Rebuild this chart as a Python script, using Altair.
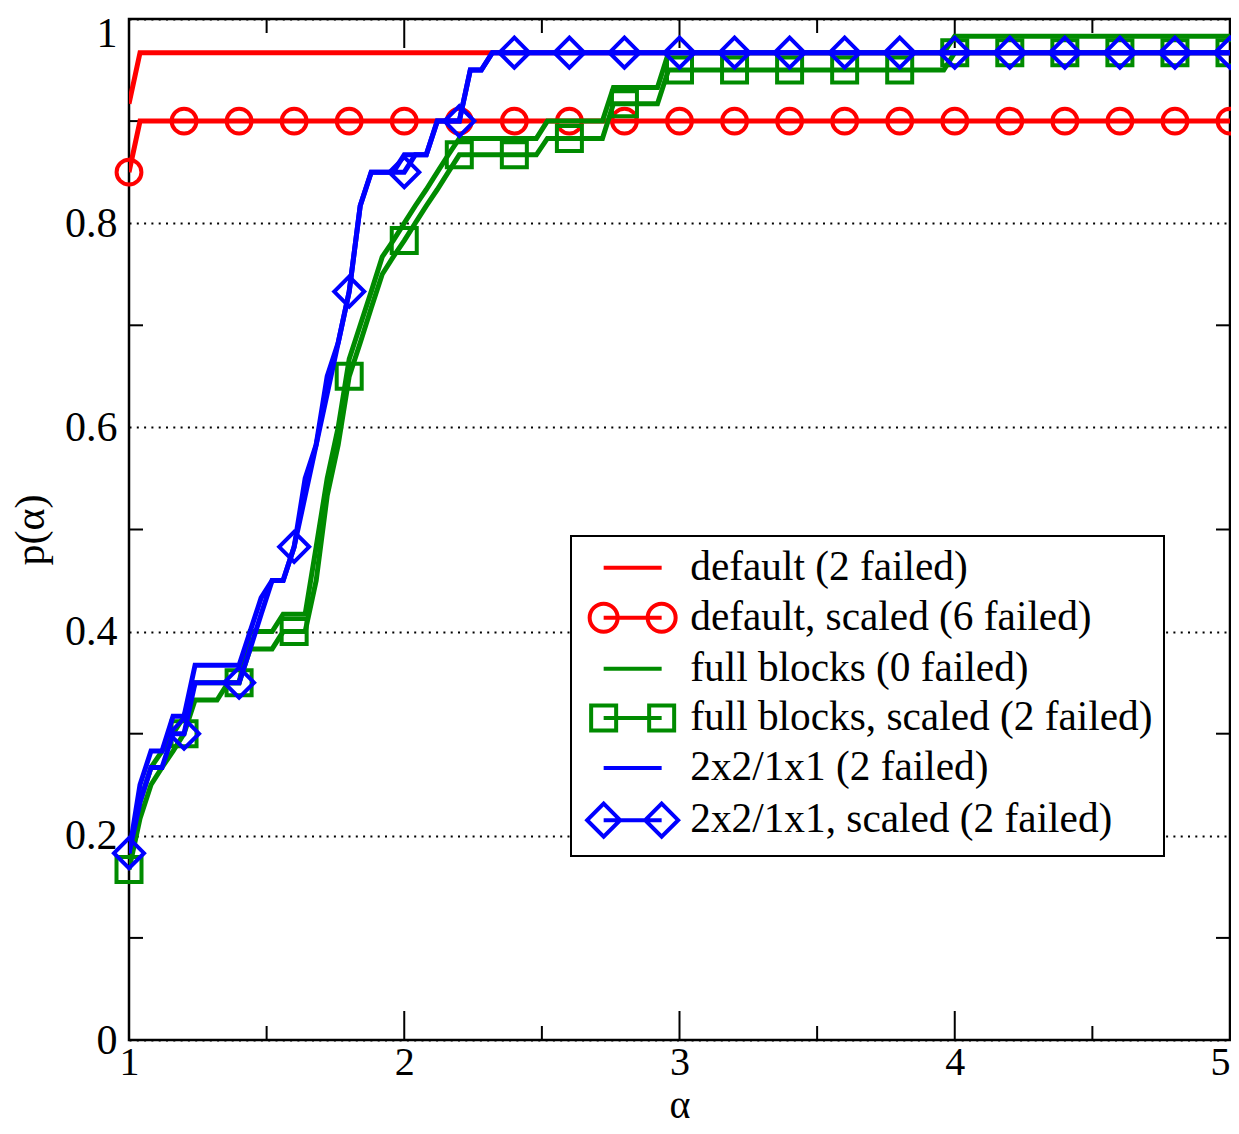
import altair as alt
import pandas as pd

# ---------------- data ----------------
labels = ["default (2 failed)", "default, scaled (6 failed)", "full blocks (0 failed)",
          "full blocks, scaled (2 failed)", "2x2/1x1 (2 failed)", "2x2/1x1, scaled (2 failed)"]
colors = ["#ff0000", "#ff0000", "#008b00", "#008b00", "#0000ff", "#0000ff"]
legend_markers = [None, "circle", None, "square", None, "diamond"]

x_ticks_major = [1, 2, 3, 4, 5]
x_ticks_minor = [1.5, 2.5, 3.5, 4.5]
y_ticks_major = [0, 0.2, 0.4, 0.6, 0.8, 1]
y_ticks_minor = [0.1, 0.3, 0.5, 0.7, 0.9]

marker_alpha = [1.0, 1.2, 1.4, 1.6, 1.8, 2.0, 2.2, 2.4, 2.6, 2.8, 3.0,
                3.2, 3.4, 3.6, 3.8, 4.0, 4.2, 4.4, 4.6, 4.8, 5.0]

default_alpha = [1.00, 1.04, 5.00]
default_p = [0.917, 0.967, 0.967]

default_scaled_alpha = [1.00, 1.04, 5.00]
default_scaled_p = [0.850, 0.900, 0.900]
default_scaled_marker_p = [0.850, 0.900, 0.900, 0.900, 0.900, 0.900, 0.900, 0.900, 0.900, 0.900, 0.900,
                           0.900, 0.900, 0.900, 0.900, 0.900, 0.900, 0.900, 0.900, 0.900, 0.900]

full_alpha = [1.00, 1.04, 1.08, 1.12, 1.16, 1.20, 1.24, 1.40, 1.44, 1.52, 1.56, 1.64,
              1.68, 1.72, 1.76, 1.80, 1.84, 1.88, 1.92, 1.96, 2.00, 2.04, 2.08, 2.12,
              2.16, 2.20, 2.48, 2.52, 2.72, 2.76, 2.92, 2.96, 3.96, 4.00, 5.00]
full_p = [0.183, 0.233, 0.267, 0.283, 0.300, 0.317, 0.350, 0.350, 0.400, 0.400, 0.417, 0.417,
          0.483, 0.550, 0.600, 0.667, 0.700, 0.733, 0.767, 0.783, 0.800, 0.817, 0.833, 0.850,
          0.867, 0.883, 0.883, 0.900, 0.900, 0.933, 0.933, 0.967, 0.967, 0.983, 0.983]

full_scaled_alpha = [1.00, 1.04, 1.08, 1.12, 1.16, 1.20, 1.24, 1.32, 1.36, 1.40, 1.44, 1.52,
                     1.56, 1.64, 1.68, 1.72, 1.76, 1.80, 1.84, 1.88, 1.92, 1.96, 2.00, 2.04,
                     2.08, 2.12, 2.16, 2.20, 2.48, 2.52, 2.72, 2.76, 2.92, 2.96, 3.96, 4.00, 5.00]
full_scaled_p = [0.167, 0.217, 0.250, 0.267, 0.283, 0.300, 0.333, 0.333, 0.350, 0.350, 0.383, 0.383,
                 0.400, 0.400, 0.450, 0.533, 0.583, 0.650, 0.683, 0.717, 0.750, 0.767, 0.783, 0.800,
                 0.817, 0.833, 0.850, 0.867, 0.867, 0.883, 0.883, 0.917, 0.917, 0.950, 0.950, 0.967, 0.967]
full_scaled_marker_p = [0.167, 0.300, 0.350, 0.400, 0.650, 0.783, 0.867, 0.867, 0.883, 0.917, 0.950,
                        0.950, 0.950, 0.950, 0.950, 0.967, 0.967, 0.967, 0.967, 0.967, 0.967]

b22_alpha = [1.00, 1.04, 1.08, 1.12, 1.16, 1.20, 1.24, 1.40, 1.44, 1.48, 1.52, 1.56,
             1.60, 1.64, 1.68, 1.72, 1.76, 1.80, 1.84, 1.88, 1.96, 2.00, 2.08, 2.12,
             2.20, 2.24, 2.28, 2.32, 5.00]
b22_p = [0.183, 0.250, 0.283, 0.283, 0.317, 0.317, 0.367, 0.367, 0.400, 0.433, 0.450, 0.450,
         0.483, 0.550, 0.583, 0.650, 0.683, 0.733, 0.817, 0.850, 0.850, 0.867, 0.867, 0.900,
         0.900, 0.950, 0.950, 0.967, 0.967]

b22_scaled_alpha = [1.00, 1.04, 1.08, 1.12, 1.16, 1.20, 1.24, 1.40, 1.44, 1.48, 1.52, 1.56,
                    1.60, 1.64, 1.68, 1.72, 1.76, 1.80, 1.84, 1.88, 2.00, 2.04, 2.08, 2.12,
                    2.20, 2.24, 2.28, 2.32, 5.00]
b22_scaled_p = [0.183, 0.233, 0.267, 0.267, 0.300, 0.300, 0.350, 0.350, 0.383, 0.417, 0.450, 0.450,
                0.483, 0.533, 0.583, 0.633, 0.683, 0.733, 0.817, 0.850, 0.850, 0.867, 0.867, 0.900,
                0.900, 0.950, 0.950, 0.967, 0.967]
b22_scaled_marker_p = [0.183, 0.300, 0.350, 0.483, 0.733, 0.850, 0.900, 0.967, 0.967, 0.967, 0.967,
                       0.967, 0.967, 0.967, 0.967, 0.967, 0.967, 0.967, 0.967, 0.967, 0.967]

# ---------------- layout / style ----------------
W, H = 1101, 1021
PAD = {"left": 121, "top": 11, "right": 1, "bottom": 86}
FONT = "Liberation Serif"
FSY = 42        # y tick label size
FSX = 40        # x tick label / axis title size
LW = 5          # line width
MW = 4          # marker stroke width

xs = alt.Scale(domain=[1, 5], nice=False, zero=False)
ys = alt.Scale(domain=[0, 1], nice=False, zero=False)

xaxis = alt.Axis(values=x_ticks_major, format="~g", ticks=False, tickSize=0, domain=False, grid=False,
                 labelFont=FONT, labelFontSize=FSX, labelColor="black", labelPadding=2,
                 labelFlush=False, labelOverlap=False,
                 labelAlign={"condition": {"test": "datum.value == 5", "value": "right"}, "value": "center"},
                 title="α", titleFont=FONT, titleFontSize=FSX, titleFontWeight="normal",
                 titleColor="black", titlePadding=3)
yaxis = alt.Axis(values=y_ticks_major, format="~g", ticks=False, tickSize=0, domain=False, grid=True,
                 gridColor="black", gridDash=[2, 5.3], gridWidth=2, gridOpacity=1,
                 labelFont=FONT, labelFontSize=FSY, labelColor="black", labelPadding=12,
                 labelFlush=False, labelOverlap=False,
                 labelOffset={"condition": {"test": "datum.value == 1", "value": 14}, "value": 0},
                 title="p(α)", titleFont=FONT, titleFontSize=FSY, titleFontWeight="normal",
                 titleColor="black", titlePadding=12)

X = alt.X("alpha:Q", scale=xs, axis=xaxis)
Y = alt.Y("p:Q", scale=ys, axis=yaxis)


def line(ax, py, color):
    df = pd.DataFrame({"alpha": ax, "p": py})
    return alt.Chart(df).mark_line(color=color, strokeWidth=LW, clip=True).encode(x=X, y=Y)


def markers(py, color, shape, size):
    df = pd.DataFrame({"alpha": marker_alpha, "p": py})
    return alt.Chart(df).mark_point(shape=shape, size=size, filled=False, color=color,
                                    strokeWidth=MW, opacity=1, clip=False).encode(x=X, y=Y)


# tick marks (inward, on all four sides)
xmaj = pd.DataFrame({"alpha": x_ticks_major})
xmin = pd.DataFrame({"alpha": x_ticks_minor})
ymin = pd.DataFrame({"p": y_ticks_minor})
tick_layers = [
    alt.Chart(xmaj).mark_rule(color="black", strokeWidth=2).encode(x=X, y=alt.value(H), y2=alt.value(H - 29)),
    alt.Chart(xmaj).mark_rule(color="black", strokeWidth=2).encode(x=X, y=alt.value(0), y2=alt.value(29)),
    alt.Chart(xmin).mark_rule(color="black", strokeWidth=2).encode(x=X, y=alt.value(H), y2=alt.value(H - 14)),
    alt.Chart(xmin).mark_rule(color="black", strokeWidth=2).encode(x=X, y=alt.value(0), y2=alt.value(14)),
    alt.Chart(ymin).mark_rule(color="black", strokeWidth=2).encode(y=Y, x=alt.value(0), x2=alt.value(14)),
    alt.Chart(ymin).mark_rule(color="black", strokeWidth=2).encode(y=Y, x=alt.value(W), x2=alt.value(W - 14)),
]


# legend symbols: line sample plus markers, as custom symbol paths (unit = sqrt(symbolSize)/2 px)
def legend_path(kind, unit=15.0, a=1.0, b=59.0):
    def f(v):
        return f"{v / unit:.3f}"
    path = f"M{f(a)},0L{f(b)},0"
    for c in (a, b):
        if kind == "circle":
            r = 14.0
            path += (f"M{f(c - r)},0A{f(r)},{f(r)} 0 1,0 {f(c + r)},0"
                     f"A{f(r)},{f(r)} 0 1,0 {f(c - r)},0")
        elif kind == "square":
            h = 12.5
            path += (f"M{f(c - h)},{f(-h)}L{f(c + h)},{f(-h)}L{f(c + h)},{f(h)}"
                     f"L{f(c - h)},{f(h)}Z")
        elif kind == "diamond":
            d = 16.5
            path += f"M{f(c - d)},0L{f(c)},{f(-d)}L{f(c + d)},0L{f(c)},{f(d)}Z"
    return path


sym_paths = [legend_path(k) for k in legend_markers]

leg = alt.Legend(orient="none", legendX=442, legendY=517, title=None,
                 fillColor="white", strokeColor="black", padding=11,
                 labelFont=FONT, labelFontSize=41.3, labelColor="black", labelLimit=0,
                 labelOffset=67, rowPadding=7.1, symbolSize=900, symbolStrokeWidth=MW)

leg_df = pd.DataFrame({"series": labels})
legend_layer = alt.Chart(leg_df).mark_point(filled=False, opacity=1, strokeWidth=MW, clip=True).encode(
    x=alt.value(-400), y=alt.value(-400),
    color=alt.Color("series:N", scale=alt.Scale(domain=labels, range=colors), legend=leg),
    shape=alt.Shape("series:N", scale=alt.Scale(domain=labels, range=sym_paths), legend=leg),
)

layers = tick_layers + [
    line(default_alpha, default_p, colors[0]),
    line(default_scaled_alpha, default_scaled_p, colors[1]),
    markers(default_scaled_marker_p, colors[1], "circle", 616),
    line(full_alpha, full_p, colors[2]),
    line(full_scaled_alpha, full_scaled_p, colors[3]),
    markers(full_scaled_marker_p, colors[3], "square", 625),
    line(b22_alpha, b22_p, colors[4]),
    line(b22_scaled_alpha, b22_scaled_p, colors[5]),
    markers(b22_scaled_marker_p, colors[5], "diamond", 900),
    legend_layer,
]

chart = alt.layer(*layers).properties(
    width=W, height=H,
    autosize=alt.AutoSizeParams(type="none"),
    padding=PAD,
).configure_view(stroke="black", strokeWidth=2.5).configure_legend(strokeWidth=2)

chart.save("out.html", embed_options={"renderer": "svg", "actions": False})
